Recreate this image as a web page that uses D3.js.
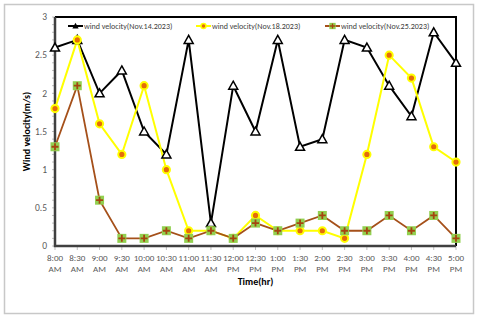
<!DOCTYPE html>
<html>
<head>
<meta charset="utf-8">
<script src="https://cdn.jsdelivr.net/npm/d3@7"></script>
<style>
  body { margin: 0; background: #fff; }
  svg { display: block; font-family: Calibri, Carlito, "Liberation Sans", sans-serif; }
</style>
</head>
<body>
<svg id="chart" width="480" height="318"></svg>
<script>
// categories and series
var times = ['8:00 AM', '8:30 AM', '9:00 AM', '9:30 AM', '10:00 AM', '10:30 AM', '11:00 AM', '11:30 AM',
    '12:00 PM', '12:30 PM', '1:00 PM', '1:30 PM', '2:00 PM', '2:30 PM', '3:00 PM', '3:30 PM',
    '4:00 PM', '4:30 PM', '5:00 PM'];
var nov14 = [2.6, 2.7, 2.0, 2.3, 1.5, 1.2, 2.7, 0.3, 2.1, 1.5, 2.7, 1.3, 1.4, 2.7, 2.6, 2.1, 1.7, 2.8, 2.4];
var nov18 = [1.8, 2.7, 1.6, 1.2, 2.1, 1.0, 0.2, 0.2, 0.1, 0.4, 0.2, 0.2, 0.2, 0.1, 1.2, 2.5, 2.2, 1.3, 1.1];
var nov25 = [1.3, 2.1, 0.6, 0.1, 0.1, 0.2, 0.1, 0.2, 0.1, 0.3, 0.2, 0.3, 0.4, 0.2, 0.2, 0.4, 0.2, 0.4, 0.1];
var yTicks = [0, 0.5, 1, 1.5, 2, 2.5, 3];
var seriesNames = ['wind velocity(Nov.14.2023)', 'wind velocity(Nov.18.2023)', 'wind velocity(Nov.25.2023)'];

var svg = d3.select('#chart');
var pLeft = 55, pRight = 456, pTop = 17, pBottom = 246;

// outer chart border
svg.append('rect')
    .attr('x', 4.5).attr('y', 4.5)
    .attr('width', 469).attr('height', 309)
    .attr('fill', '#fff').attr('stroke', '#c8c8c8').attr('stroke-width', 1.5);

var x = d3.scalePoint().domain(times).range([pLeft, pRight]);
var y = d3.scaleLinear().domain([0, 3]).range([pBottom, pTop]);

// plot area box (top/right black)
svg.append('path')
    .attr('d', 'M' + pLeft + ',' + pTop + 'H' + pRight + 'V' + pBottom)
    .attr('fill', 'none').attr('stroke', '#000').attr('stroke-width', 2);

// minor y ticks
var yAxis = svg.append('g').attr('transform', 'translate(' + pLeft + ',0)');
yAxis.selectAll('line.minor').data(d3.range(0, 31).map(d => d / 10))
    .enter().append('line')
        .attr('x1', -3).attr('x2', 0)
        .attr('y1', d => y(d)).attr('y2', d => y(d))
        .attr('stroke', '#bfbfbf').attr('stroke-width', 1);
yAxis.selectAll('text').data(yTicks)
    .enter().append('text')
        .attr('x', -8).attr('y', d => y(d))
        .attr('dy', '0.35em')
        .attr('text-anchor', 'end')
        .attr('font-size', 9.5).attr('fill', '#595959')
        .text(d => d);

// x ticks and labels
var xAxis = svg.append('g').attr('transform', 'translate(0,' + pBottom + ')');
xAxis.selectAll('line').data(times)
    .enter().append('line')
        .attr('x1', d => x(d)).attr('x2', d => x(d))
        .attr('y1', 0).attr('y2', 4)
        .attr('stroke', '#bfbfbf');
var xl = xAxis.selectAll('text').data(times)
    .enter().append('text')
        .attr('text-anchor', 'middle')
        .attr('font-size', 9).attr('fill', '#595959');
xl.append('tspan').attr('x', d => x(d)).attr('y', 15).text(d => d.split(' ')[0]);
xl.append('tspan').attr('x', d => x(d)).attr('y', 26).text(d => d.split(' ')[1]);

// left and bottom axis lines
svg.append('path')
    .attr('d', 'M' + pLeft + ',' + pTop + 'V' + pBottom + 'H' + pRight)
    .attr('fill', 'none').attr('stroke', '#404040').attr('stroke-width', 2.5);

// axis titles
svg.append('text')
    .attr('transform', 'translate(30,' + ((pTop + pBottom) / 2) + ') rotate(-90)')
    .attr('text-anchor', 'middle')
    .attr('font-size', 10).attr('font-weight', 'bold').attr('fill', '#000')
    .text('Wind velocity(m/s)');
svg.append('text')
    .attr('x', (pLeft + pRight) / 2).attr('y', 285)
    .attr('text-anchor', 'middle')
    .attr('font-size', 10).attr('font-weight', 'bold').attr('fill', '#000')
    .text('Time(hr)');

var line = d3.line().x((d, i) => x(times[i])).y(d => y(d));

function triangle(g) {
    g.append('path')
        .attr('d', 'M0,-4.5L4.5,3.5L-4.5,3.5Z')
        .attr('fill', '#fff').attr('stroke', '#000').attr('stroke-width', 1.5);
}
function dot(g) {
    g.append('circle').attr('r', 3.6)
        .attr('fill', '#e46c0a').attr('stroke', '#ffff00').attr('stroke-width', 2);
}
function plus(g) {
    g.append('rect').attr('x', -4.5).attr('y', -4.5).attr('width', 9).attr('height', 9)
        .attr('fill', '#92d050');
    g.append('path').attr('d', 'M-3.5,0H3.5M0,-3.5V3.5')
        .attr('stroke', '#a5450f').attr('stroke-width', 1.8);
}

var series = [
    {data: nov14, color: '#000', width: 2, marker: triangle},
    {data: nov18, color: '#ffff00', width: 2, marker: dot},
    {data: nov25, color: '#a5501a', width: 1.8, marker: plus},
];

series.forEach(function(s) {
    svg.append('path').datum(s.data)
        .attr('d', line)
        .attr('fill', 'none').attr('stroke', s.color).attr('stroke-width', s.width);
});
series.forEach(function(s) {
    svg.append('g').selectAll('g').data(s.data)
        .enter().append('g')
            .attr('transform', (d, i) => 'translate(' + x(times[i]) + ',' + y(d) + ')')
            .each(function() { s.marker(d3.select(this)); });
});

// legend
var legendX = [68, 196, 325];
series.forEach(function(s, i) {
    var g = svg.append('g').attr('transform', 'translate(' + legendX[i] + ',26)');
    g.append('line').attr('x1', 0).attr('x2', 15)
        .attr('stroke', s.color).attr('stroke-width', 2);
    var m = g.append('g').attr('transform', 'translate(7.5,0) scale(0.7)');
    if (i == 0) {
        m.append('path').attr('d', 'M0,-4.5L4.5,3.5L-4.5,3.5Z').attr('fill', '#000');
    } else {
        s.marker(m);
    }
    g.append('text').attr('x', 16).attr('dy', '0.35em')
        .attr('font-size', 8).attr('fill', '#404040')
        .text(seriesNames[i]);
});
</script>
</body>
</html>
